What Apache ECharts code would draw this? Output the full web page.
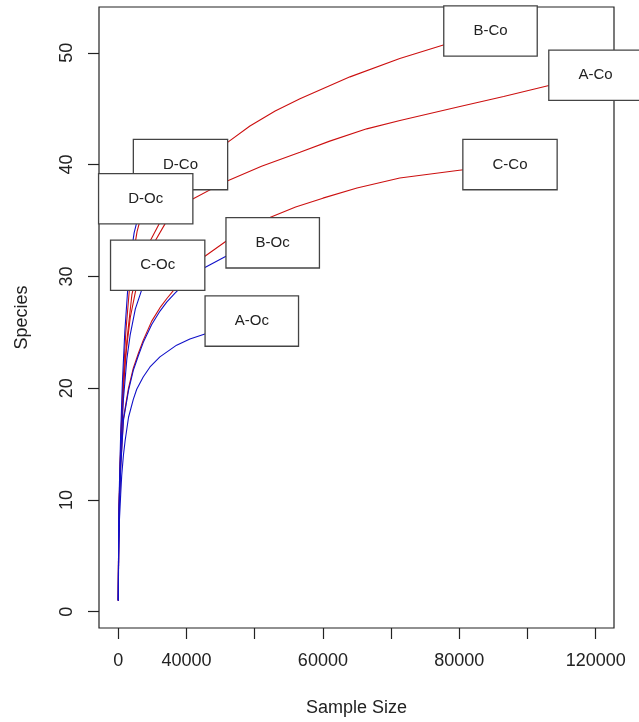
<!DOCTYPE html>
<html>
<head>
<meta charset="utf-8">
<script src="https://cdn.jsdelivr.net/npm/echarts@6/dist/echarts.min.js"></script>
<style>
html,body{margin:0;padding:0;background:#fff;}
#chart{width:639px;height:722px;}
</style>
</head>
<body>
<div id="chart"></div>
<script>
// Rarefaction curves: [sample size, species]
const A_Co = [[1,1],[100,6.5],[400,11.5],[1000,17.5],[2000,22.5],[3500,26.3],[5000,28.6],[7000,30.6],[9000,32.1],[10760,33.15],[13700,34.7],[17000,35.9],[21700,36.9],[31580,38.5],[42000,39.85],[53280,41.1],[62000,42.1],[72850,43.2],[82600,43.95],[100200,45.2],[113000,46.1],[126600,47.1],[139950,48.0]];
const B_Co = [[1,1],[100,6.5],[300,10],[700,14.5],[1500,20],[2500,24.2],[4000,28.4],[5500,30.3],[7300,31.8],[9300,33.15],[12230,34.85],[18090,37.8],[24000,40.0],[31640,41.9],[38600,43.45],[46000,44.8],[53280,45.9],[67950,47.85],[82550,49.5],[95800,50.75],[109150,51.95]];
const C_Co = [[1,1],[100,6],[300,9.5],[700,13],[1500,17.3],[3000,20.0],[4400,21.8],[5870,23.1],[7330,24.3],[9800,26.0],[12230,27.2],[14190,28.0],[16630,28.9],[20000,30.1],[25400,31.8],[31580,33.15],[43900,35.2],[52000,36.2],[60000,37.0],[70000,37.9],[82550,38.8],[100000,39.5],[114870,40.0]];
const D_Co = [[1,1],[100,7],[300,10.5],[700,15],[1300,20],[2200,25],[3300,29],[4400,32],[5500,34],[7500,36.3],[10000,37.9],[13000,39],[18240,40]];
const A_Oc = [[1,1],[100,5],[300,8],[700,10.5],[1000,12.2],[1500,14],[2000,15.3],[3000,17.4],[4400,19],[5400,19.9],[7300,21],[9300,21.9],[12200,22.8],[17100,23.85],[21000,24.4],[25400,24.85],[30000,25.3],[35000,25.7],[39150,26]];
const B_Oc = [[1,1],[100,6],[300,9.3],[700,12.8],[1500,17.1],[3000,19.8],[4400,21.6],[5870,22.9],[7330,24.1],[9800,25.7],[12230,26.9],[14190,27.7],[16630,28.5],[20000,29.5],[25400,30.8],[31580,31.8],[38000,32.5],[45280,33.0]];
const C_Oc = [[1,1],[100,6.5],[300,10],[700,14],[1500,19],[2500,22.6],[3500,24.8],[5000,27.1],[6860,28.8],[9000,30.1],[11550,31.0]];
const D_Oc = [[1,1],[100,7],[300,11],[700,16],[1200,20.5],[1900,25],[2800,29],[3700,31.9],[4640,33.9],[6200,35.8],[8040,36.95]];

const curveNames = ["A-Co","B-Co","C-Co","D-Co","A-Oc","B-Oc","C-Oc","D-Oc"];
const curveData = [A_Co, B_Co, C_Co, D_Co, A_Oc, B_Oc, C_Oc, D_Oc];
const curveColors = ["#cc1010","#cc1010","#cc1010","#cc1010","#1010c8","#1010c8","#1010c8","#1010c8"];

const xTickValues = [0,20000,40000,60000,80000,100000,120000,140000];
const xTickLabels = ["0","40000","","60000","","80000","","120000"];
const xLabelValues = [0,20000,60000,100000,140000];
const yTickValues = [0,10,20,30,40,50];

const FONT = "'Liberation Sans', Arial, sans-serif";
const chart = echarts.init(document.getElementById('chart'), null, {renderer:'canvas'});

const series = curveData.map((d,i)=>({
  type:'line', name:curveNames[i], data:d, showSymbol:false, symbol:'none',
  smooth:false,
  lineStyle:{color:curveColors[i], width:1.1}, z:2, silent:true
}));
series.push({
  type:'scatter', z:10, silent:true, symbolSize:0,
  itemStyle:{color:'#ffffff', opacity:1},
  data: curveData.map((d,i)=>[d[d.length-1][0], d[d.length-1][1], curveNames[i]]),
  label:{
    show:true, position:'inside', formatter:p=>p.data[2], opacity:1,
    fontFamily:FONT, fontSize:15, color:'#222', lineHeight:17,
    backgroundColor:'#ffffff', borderColor:'#444', borderWidth:1.3,
    padding:[16,29,16,29]
  }
});

chart.setOption({
  animation:false,
  backgroundColor:'#fff',
  grid:{left:99, right:25, top:7, bottom:88, show:true, borderColor:'#222', borderWidth:1.2, backgroundColor:'transparent'},
  xAxis:{
    type:'value', min:-5660, max:145370,
    name:'Sample Size', nameLocation:'middle', nameGap:71,
    nameTextStyle:{fontFamily:FONT, fontSize:18, color:'#222'},
    axisLine:{show:false, onZero:false},
    axisTick:{show:true, inside:false, length:11, customValues:xTickValues, lineStyle:{color:'#222', width:1.2}},
    axisLabel:{show:true, customValues:xLabelValues, margin:24, fontFamily:FONT, fontSize:18, color:'#222',
      formatter:v=>{const k=xTickValues.indexOf(v); return k>=0?xTickLabels[k]:'';}},
    splitLine:{show:false}
  },
  yAxis:{
    type:'value', min:-1.454, max:54.1,
    name:'Species', nameLocation:'middle', nameGap:68,
    nameTextStyle:{fontFamily:FONT, fontSize:18, color:'#222'},
    axisLine:{show:false, onZero:false},
    axisTick:{show:true, inside:false, length:11, customValues:yTickValues, lineStyle:{color:'#222', width:1.2}},
    axisLabel:{show:true, customValues:yTickValues, rotate:90, margin:23, fontFamily:FONT, fontSize:18, color:'#222'},
    splitLine:{show:false}
  },
  series:series
});
</script>
</body>
</html>
